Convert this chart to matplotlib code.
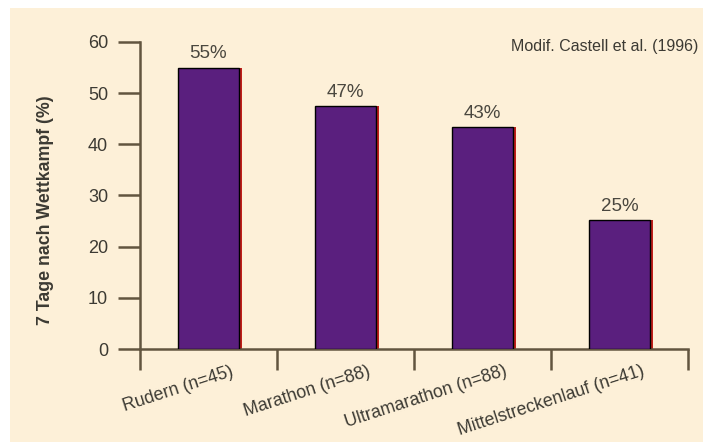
import matplotlib
matplotlib.use("Agg")
import matplotlib.pyplot as plt
from matplotlib.patches import Rectangle
import matplotlib.transforms as mtransforms

categories = ["Rudern (n=45)", "Marathon (n=88)", "Ultramarathon (n=88)", "Mittelstreckenlauf (n=41)"]
values = [55, 47.5, 43.3, 25.2]
value_labels = ["55%", "47%", "43%", "25%"]
yticks = [0, 10, 20, 30, 40, 50, 60]
source_note = "Modif. Castell et al. (1996)"
ylabel = "7 Tage nach Wettkampf (%)"

plt.rcParams['font.family'] = ['Liberation Sans', 'DejaVu Sans']
W, H = 703, 444
fig = plt.figure(figsize=(W/100, H/100), dpi=100)
fig.patch.set_facecolor("white")
bg = "#fdf0d8"
fig.patches.append(Rectangle((10/W, 2/H), (W-10)/W, (H-10)/H, transform=fig.transFigure,
                             facecolor=bg, edgecolor="none", zorder=-10))

ax = fig.add_axes([140/W, (H-349)/H, 548/W, (349-42)/H])
ax.set_facecolor("none")
axcol = "#62553f"
txtcol = "#3c3a33"

x = list(range(len(categories)))
bw = 0.44
# red shadow on right side
ax.bar([xi + 0.025 for xi in x], values, width=bw, color="#c0201a", edgecolor="none", zorder=2)
ax.bar(x, values, width=bw, color="#5a1f7e", edgecolor="black", linewidth=1.0, zorder=3)

for xi, v, lab in zip(x, values, value_labels):
    ax.text(xi, v + 1.8, lab, ha="center", va="baseline", fontsize=13.5, color="#4a473f")

ax.set_xlim(-0.5, 3.5)
ax.set_ylim(0, 60)
ax.set_yticks(yticks)
ax.tick_params(axis="y", direction="out", length=16, width=1.8, color=axcol,
               labelsize=13, labelcolor=txtcol, pad=7)
ax.set_xticks([-0.5, 0.5, 1.5, 2.5, 3.5])
ax.set_xticklabels([])
ax.tick_params(axis="x", direction="out", length=15, width=1.8, color=axcol)
for s in ["top", "right"]:
    ax.spines[s].set_visible(False)
ax.spines["left"].set_color(axcol)
ax.spines["left"].set_linewidth(1.8)
ax.spines["bottom"].set_color(axcol)
ax.spines["bottom"].set_linewidth(1.8)

trans = mtransforms.blended_transform_factory(ax.transData, ax.transAxes)
for xi, c in zip(x, categories):
    ax.text(xi + 0.16, -0.045, c, transform=trans, ha="right", va="top", rotation=18,
            rotation_mode="anchor", fontsize=12.8, color=txtcol, clip_on=False)

ax.set_ylabel(ylabel, fontsize=12.8, fontweight="bold", color=txtcol)
ax.yaxis.set_label_coords(-86/548, 0.453)
fig.text(698/W, (H-47)/H, source_note, ha="right", va="center", fontsize=11.5, color=txtcol)

fig.savefig("out.png", dpi=100, facecolor=fig.get_facecolor())
